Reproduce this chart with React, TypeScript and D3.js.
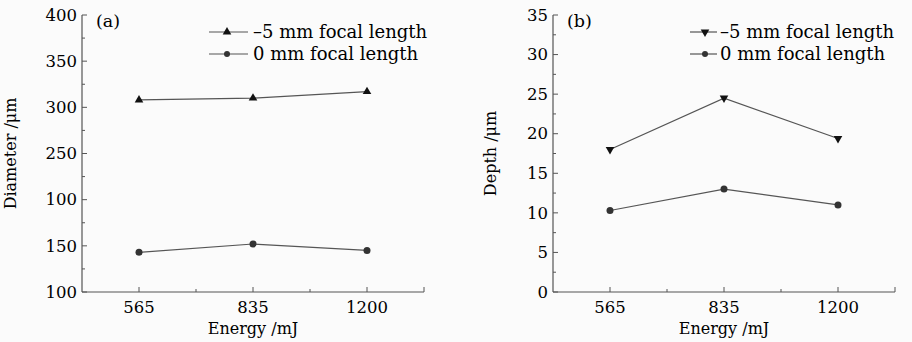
// Diameter / depth vs energy, two panels
import React from "react";
import { scaleLinear, scalePoint, line, range, symbol, symbolTriangle } from "d3";

const energies = ["565", "835", "1200"];
const seriesNames = ["\u20135 mm focal length", "0 mm focal length"];

// panel (a): diameter, the axis labels are printed as in the figure
const diamMinus5 = [308, 310, 317];
const diam0 = [143, 152, 145];
const diamTicks = [100, 150, 200, 250, 300, 350, 400];
const diamTickLabels = ["100", "150", "100", "250", "300", "350", "400"];

// panel (b): depth
const depthMinus5 = [18.0, 24.5, 19.4];
const depth0 = [10.3, 13.0, 11.0];
const depthTicks = [0, 5, 10, 15, 20, 25, 30, 35];

const W = 912;
const H = 342;
const FONT = "'DejaVu Serif', serif";
const AXIS = "#555";
const LINE = "#555";
const MARK = "#111";

const Triangle = ({ x, y, down }) => {
    const d = symbol(symbolTriangle, 32)();
    return (
        <path
            d={d}
            transform={`translate(${x},${y})${down ? " rotate(180)" : ""}`}
            fill={MARK}
        />
    );
};

const Panel = ({
    left,
    right,
    top,
    bottom,
    domain,
    major,
    minorStep,
    tickLabels,
    seriesA,
    seriesB,
    down,
    yTitle,
    titleOffset,
    tag,
    legendX,
    legendLen,
    legendMark,
    legendText,
}) => {
    const xScale = scalePoint().domain(energies).range([left, right]).padding(0.5);
    const yScale = scaleLinear().domain(domain).range([bottom, top]);
    const step = xScale.step();
    const minorX = [
        xScale(energies[0]) + step / 2,
        xScale(energies[1]) + step / 2,
        right,
    ];
    const minorY = range(domain[0] + minorStep, domain[1], minorStep * 2);

    const path = line()
        .x((d, i) => xScale(energies[i]))
        .y((d) => yScale(d));

    return (
        <g fontFamily={FONT} fill="#000">
            {/* axes */}
            <line x1={left} y1={top} x2={left} y2={bottom} stroke={AXIS} strokeWidth={1.2} />
            <line x1={left} y1={bottom} x2={right} y2={bottom} stroke={AXIS} strokeWidth={1.2} />

            {major.map((t, i) => (
                <g key={"y" + i}>
                    <line x1={left} x2={left + 5} y1={yScale(t)} y2={yScale(t)} stroke={AXIS} />
                    <text
                        x={left - 5}
                        y={yScale(t)}
                        dy="0.35em"
                        textAnchor="end"
                        fontSize={16.5}
                    >
                        {tickLabels ? tickLabels[i] : t}
                    </text>
                </g>
            ))}
            {minorY.map((t, i) => (
                <line key={"ym" + i} x1={left} x2={left + 3} y1={yScale(t)} y2={yScale(t)} stroke={AXIS} />
            ))}

            {energies.map((e) => (
                <g key={e}>
                    <line x1={xScale(e)} x2={xScale(e)} y1={bottom} y2={bottom - 5} stroke={AXIS} />
                    <text x={xScale(e)} y={bottom + 21} textAnchor="middle" fontSize={16.5}>
                        {e}
                    </text>
                </g>
            ))}
            {minorX.map((x, i) => (
                <line key={"xm" + i} x1={x} x2={x} y1={bottom} y2={bottom - (i === 2 ? 5 : 3)} stroke={AXIS} />
            ))}

            <text x={(left + right) / 2} y={bottom + 42} textAnchor="middle" fontSize={16}>
                Energy /mJ
            </text>
            <text
                transform={`translate(${left - titleOffset},${(top + bottom) / 2}) rotate(-90)`}
                textAnchor="middle"
                fontSize={16}
            >
                {yTitle}
            </text>
            <text x={left + 14} y={top + 12} fontSize={17.5}>
                {tag}
            </text>

            {/* series */}
            <path d={path(seriesA)} fill="none" stroke={LINE} strokeWidth={1.2} />
            <path d={path(seriesB)} fill="none" stroke={LINE} strokeWidth={1.2} />
            {seriesA.map((v, i) => (
                <Triangle key={"a" + i} x={xScale(energies[i])} y={yScale(v)} down={down} />
            ))}
            {seriesB.map((v, i) => (
                <circle key={"b" + i} cx={xScale(energies[i])} cy={yScale(v)} r={3.5} fill="#333" />
            ))}

            {/* legend */}
            {seriesNames.map((name, i) => {
                const y = top + 17 + i * 22;
                return (
                    <g key={name}>
                        <line x1={legendX} x2={legendX + legendLen} y1={y} y2={y} stroke={LINE} strokeWidth={1.2} />
                        {i === 0 ? (
                            <Triangle x={legendX + legendMark} y={y} down={down} />
                        ) : (
                            <circle cx={legendX + legendMark} cy={y} r={3} fill="#333" />
                        )}
                        <text x={legendX + legendText} y={y} dy="0.35em" fontSize={18}>
                            {name}
                        </text>
                    </g>
                );
            })}
        </g>
    );
};

const App = () => {
    return (
        <svg
            width={W}
            height={H}
            style={{ position: "absolute", left: 0, top: 0, background: "#fbfbfb" }}
        >
            <Panel
                left={82}
                right={424}
                top={15}
                bottom={292}
                domain={[100, 400]}
                major={diamTicks}
                minorStep={25}
                tickLabels={diamTickLabels}
                seriesA={diamMinus5}
                seriesB={diam0}
                down={false}
                yTitle="Diameter /μm"
                titleOffset={66}
                tag="(a)"
                legendX={209}
                legendLen={39}
                legendMark={18}
                legendText={44}
            />
            <Panel
                left={553}
                right={895}
                top={15}
                bottom={292}
                domain={[0, 35]}
                major={depthTicks}
                minorStep={2.5}
                tickLabels={null}
                seriesA={depthMinus5}
                seriesB={depth0}
                down={true}
                yTitle="Depth /μm"
                titleOffset={57}
                tag="(b)"
                legendX={690}
                legendLen={27}
                legendMark={15}
                legendText={30}
            />
        </svg>
    );
};

export default App;
